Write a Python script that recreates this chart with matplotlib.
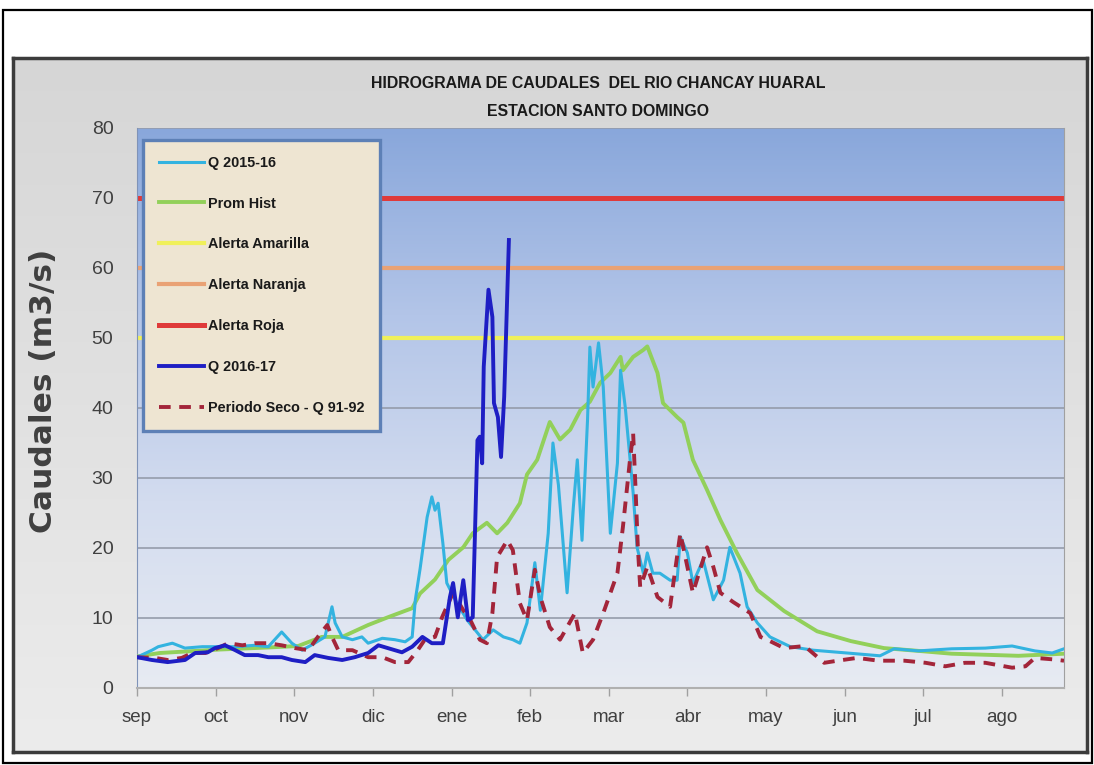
import numpy as np
import matplotlib
matplotlib.use('Agg')
import matplotlib.pyplot as plt
from matplotlib.colors import LinearSegmentedColormap
from matplotlib.patches import Rectangle

meses = ['sep', 'oct', 'nov', 'dic', 'ene', 'feb', 'mar', 'abr', 'may', 'jun', 'jul', 'ago']

# posiciones en meses desde el 1 de setiembre
prom_x = [0.00, 0.29, 1.06, 1.69, 2.05, 2.35, 2.61, 2.94, 3.19, 3.50, 3.60, 3.79, 3.96,
          4.15, 4.27, 4.45, 4.58, 4.71, 4.87, 4.96, 5.09, 5.25, 5.38, 5.51, 5.64, 5.76,
          5.89, 6.02, 6.15, 6.18, 6.31, 6.44, 6.49, 6.62, 6.69, 6.87, 6.95, 7.07, 7.25,
          7.42, 7.63, 7.89, 8.23, 8.65, 9.08, 9.50, 9.94, 10.36, 11.21, 11.79]
prom_q = [4.5, 5.0, 5.5, 5.8, 6.0, 7.3, 7.3, 9.0, 10.1, 11.4, 13.5, 15.5, 18.3,
          20.1, 22.1, 23.6, 22.1, 23.6, 26.4, 30.5, 32.6, 38.0, 35.5, 36.9, 39.7, 40.9,
          43.6, 45.0, 47.3, 45.4, 47.3, 48.3, 48.8, 45.0, 40.7, 38.7, 37.9, 32.6, 28.3,
          24.0, 19.3, 14.0, 11.0, 8.1, 6.7, 5.7, 5.3, 4.9, 4.6, 4.9]

q1516_x = [0.00, 0.19, 0.27, 0.45, 0.61, 0.83, 1.03, 1.25, 1.50, 1.67, 1.84, 1.97, 2.10,
           2.26, 2.39, 2.48, 2.52, 2.61, 2.74, 2.86, 2.94, 3.12, 3.28, 3.41, 3.50, 3.54,
           3.60, 3.69, 3.75, 3.79, 3.83, 3.89, 3.94, 4.07, 4.20, 4.30, 4.40, 4.53, 4.66,
           4.78, 4.87, 4.96, 5.06, 5.13, 5.23, 5.29, 5.36, 5.47, 5.55, 5.60, 5.66, 5.73,
           5.76, 5.80, 5.87, 5.93, 6.02, 6.11, 6.15, 6.21, 6.31, 6.36, 6.44, 6.49, 6.56,
           6.65, 6.78, 6.87, 6.91, 7.00, 7.07, 7.20, 7.33, 7.46, 7.54, 7.67, 7.76, 7.89,
           8.05, 8.31, 8.60, 9.03, 9.45, 9.63, 9.94, 10.36, 10.79, 11.13, 11.42, 11.64, 11.79]
q1516_q = [4.4, 5.4, 5.9, 6.4, 5.7, 5.9, 5.9, 5.9, 6.1, 5.9, 8.0, 6.4, 5.4,
           6.4, 7.3, 11.6, 9.3, 7.3, 6.9, 7.3, 6.4, 7.1, 6.9, 6.6, 7.3, 12.6,
           17.0, 24.4, 27.3, 25.4, 26.4, 20.7, 15.0, 12.1, 9.7, 8.3, 6.9, 8.3, 7.3,
           6.9, 6.4, 9.3, 17.9, 11.1, 22.1, 35.0, 29.0, 13.6, 25.9, 32.6, 21.1, 38.3,
           48.7, 43.0, 49.3, 43.0, 22.1, 32.1, 45.4, 40.1, 27.9, 20.1, 16.4, 19.3, 16.4,
           16.4, 15.4, 15.4, 21.6, 19.3, 15.0, 18.3, 12.6, 15.4, 20.1, 16.4, 11.6, 9.3,
           7.3, 5.9, 5.4, 5.0, 4.6, 5.6, 5.3, 5.6, 5.7, 6.0, 5.3, 5.0, 5.6]

q1617_x = [0.00, 0.19, 0.39, 0.61, 0.74, 0.90, 0.99, 1.12, 1.25, 1.37, 1.54, 1.67, 1.84,
           1.97, 2.14, 2.26, 2.43, 2.61, 2.77, 2.94, 3.07, 3.19, 3.37, 3.50, 3.63, 3.75,
           3.89, 3.98, 4.02, 4.08, 4.15, 4.21, 4.27, 4.33, 4.36, 4.39, 4.41, 4.47, 4.52,
           4.54, 4.59, 4.63, 4.67, 4.73]
q1617_q = [4.4, 4.0, 3.7, 4.0, 5.0, 5.1, 5.7, 6.1, 5.4, 4.7, 4.7, 4.4, 4.4,
           4.0, 3.7, 4.7, 4.3, 4.0, 4.4, 5.0, 6.1, 5.7, 5.1, 5.9, 7.3, 6.4,
           6.4, 13.0, 15.0, 10.1, 15.4, 9.7, 10.1, 35.4, 35.9, 32.1, 45.9, 56.9, 53.0,
           40.7, 38.7, 33.0, 41.6, 64.0]

seco_x = [0.00, 0.23, 0.39, 0.57, 0.70, 0.87, 1.03, 1.16, 1.34, 1.50, 1.67, 1.84, 2.01,
          2.18, 2.30, 2.42, 2.48, 2.56, 2.74, 2.94, 3.12, 3.28, 3.45, 3.57, 3.66, 3.79,
          3.88, 3.94, 4.02, 4.15, 4.24, 4.36, 4.45, 4.52, 4.58, 4.71, 4.78, 4.87, 4.96,
          5.06, 5.13, 5.25, 5.38, 5.57, 5.67, 5.80, 5.93, 6.11, 6.18, 6.27, 6.31, 6.34,
          6.37, 6.40, 6.49, 6.62, 6.78, 6.91, 7.00, 7.07, 7.25, 7.33, 7.42, 7.58, 7.80,
          7.93, 8.05, 8.23, 8.49, 8.74, 8.91, 9.16, 9.43, 9.76, 10.03, 10.28, 10.53, 10.79,
          11.13, 11.30, 11.42, 11.64, 11.79]
seco_q = [4.4, 4.3, 4.0, 4.3, 5.0, 5.0, 5.7, 6.4, 6.1, 6.4, 6.4, 6.1, 5.7,
          5.4, 7.3, 9.0, 7.3, 5.4, 5.4, 4.4, 4.4, 3.7, 3.7, 5.4, 6.9, 7.3,
          10.1, 11.6, 13.6, 11.1, 9.7, 6.9, 6.4, 10.7, 18.7, 21.1, 19.7, 12.1, 9.7,
          16.9, 13.0, 8.7, 6.9, 10.7, 5.0, 6.9, 10.7, 16.4, 23.0, 32.6, 36.4, 28.7,
          20.1, 14.4, 17.3, 13.0, 11.6, 22.1, 17.3, 13.6, 20.1, 17.3, 13.6, 12.3, 10.7,
          7.3, 6.7, 5.7, 6.0, 3.6, 3.9, 4.3, 3.9, 3.9, 3.6, 3.1, 3.6, 3.6,
          2.9, 3.1, 4.3, 4.1, 3.9]

alerta_nombres = ['Alerta Amarilla', 'Alerta Naranja', 'Alerta Roja']
alerta_valores = [50, 60, 70]

W, H = 1094, 765
fig = plt.figure(figsize=(W / 100, H / 100), dpi=100)
fig.patch.set_facecolor('white')

def fx(px):
    return px / W

def fy(py):
    return 1 - py / H

# marco exterior negro
fig.add_artist(Rectangle((fx(3), fy(763)), fx(1092) - fx(3), fy(10) - fy(763),
                         transform=fig.transFigure, fill=False, edgecolor='black', lw=1.6))

# fondo gris del grafico
bg = fig.add_axes([fx(13), fy(752), fx(1087) - fx(13), fy(58) - fy(752)], zorder=0)
gris = LinearSegmentedColormap.from_list('gris', ['#ececec', '#d6d6d6'])
bg.imshow(np.linspace(0, 1, 256).reshape(-1, 1), cmap=gris, aspect='auto',
          extent=[0, 1, 0, 1], origin='lower')
bg.set_xticks([])
bg.set_yticks([])
for s in bg.spines.values():
    s.set_color('#3c3c3c')
    s.set_linewidth(2.5)

ax = fig.add_axes([fx(137), fy(688), fx(1064) - fx(137), fy(128) - fy(688)], zorder=1)
ax.set_xlim(0, 11.79)
ax.set_ylim(0, 80)

# degradado azul del area de trazado
azul = LinearSegmentedColormap.from_list('azul', ['#e7ebf3', '#d3dcef', '#b3c5e8', '#89a7db'])
ax.imshow(np.linspace(0, 1, 256).reshape(-1, 1), cmap=azul, aspect='auto',
          extent=[0, 1, 0, 1], origin='lower', transform=ax.transAxes, zorder=0)

for v in range(10, 81, 10):
    ax.axhline(v, color='#959cab', lw=1.2, zorder=1)

alerta_colores = ['#f0f05a', '#e9a275', '#df3a3a']
alerta_lw = [3.0, 3.0, 3.6]
h_alertas = []
for nombre, valor, c, lw in zip(alerta_nombres, alerta_valores, alerta_colores, alerta_lw):
    h_alertas.append(ax.axhline(valor, color=c, lw=lw, zorder=2, label=nombre))

h_prom, = ax.plot(prom_x, prom_q, color='#92d05a', lw=2.8, zorder=3, label='Prom Hist')
h_1516, = ax.plot(q1516_x, q1516_q, color='#33b3e0', lw=2.2, zorder=4, label='Q 2015-16')
h_seco, = ax.plot(seco_x, seco_q, color='#a3253a', lw=2.8, dashes=(3, 2.2), zorder=5,
                  label='Periodo Seco - Q 91-92')
h_1617, = ax.plot(q1617_x, q1617_q, color='#1e1ec4', lw=2.8, zorder=6, label='Q 2016-17')

ax.set_yticks(range(0, 81, 10))
ax.set_xticks(range(12))
ax.set_xticklabels(meses)
ax.tick_params(axis='y', length=0, pad=17, labelsize=14, labelcolor='#404040')
ax.tick_params(axis='x', length=6, width=1, color='#a0a0a0', pad=9, labelsize=13.5,
               labelcolor='#404040')
for lab in ax.get_xticklabels() + ax.get_yticklabels():
    lab.set_family('Liberation Sans')
ax.spines['top'].set_visible(False)
ax.spines['left'].set_color('#7f93b8')
ax.spines['right'].set_color('#a0a0a0')
ax.spines['bottom'].set_color('#b0b0b0')
ax.spines['bottom'].set_linewidth(1.5)

leg = ax.legend(handles=[h_1516, h_prom] + h_alertas + [h_1617, h_seco],
                loc='upper left', bbox_to_anchor=(0.0065, 0.979), frameon=True,
                fancybox=False, framealpha=1, borderaxespad=0, borderpad=1.1,
                handlelength=3.1, handletextpad=0.28, labelspacing=1.86,
                prop={'family': 'Liberation Sans', 'weight': 'bold', 'size': 10.4})
leg.get_frame().set_facecolor('#eee5d2')
leg.get_frame().set_edgecolor('#5d80b6')
leg.get_frame().set_linewidth(2.4)
leg.set_zorder(10)
for t in leg.get_texts():
    t.set_color('#1a1a1a')

fig.text(fx(598), fy(83), 'HIDROGRAMA DE CAUDALES  DEL RIO CHANCAY HUARAL',
         ha='center', va='center', fontsize=11.4, weight='bold', color='#1a1a1a',
         family='Liberation Sans')
fig.text(fx(598), fy(112), 'ESTACION SANTO DOMINGO', ha='center', va='center',
         fontsize=11.4, weight='bold', color='#1a1a1a', family='Liberation Sans')

fig.text(fx(44), fy(391), 'Caudales (m3/s)', rotation=90, ha='center', va='center',
         fontsize=22.5, weight='bold', color='#404040', family='DejaVu Sans')

fig.savefig('out.png', dpi=100)
